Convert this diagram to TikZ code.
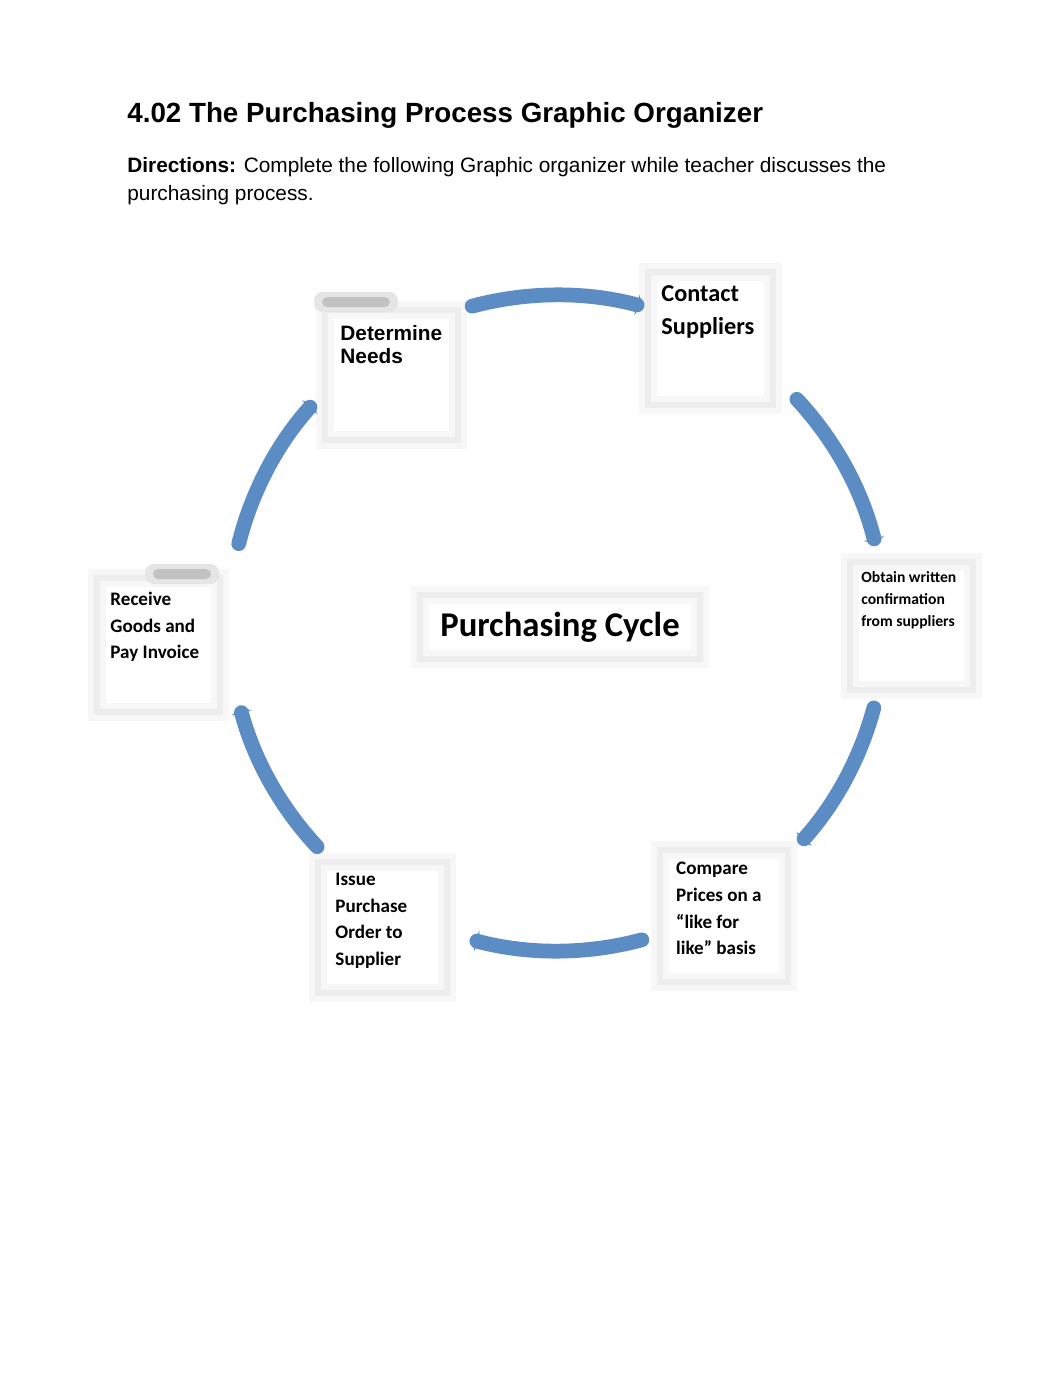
\documentclass[tikz,border=0pt]{standalone}
\usepackage{fontspec}
\setmainfont{Liberation Sans}
\newfontfamily\calibri{Carlito}
\usetikzlibrary{arrows.meta,positioning}
\definecolor{arcblue}{RGB}{92,140,196}

\begin{document}
\begin{tikzpicture}[x=0.5763pt,y=-0.5763pt,
  stepbox/.style={draw=black!7, line width=3.5pt,
    preaction={draw=black!3, line width=10pt}},
  steptext/.style={inner sep=0pt, align=left, anchor=north west,
    font=\calibri\bfseries\fontsize{11}{15.3}\selectfont},
  flow/.style={arcblue, line width=8.5pt, line cap=round,
    -{Triangle[length=3pt,width=12pt]}}]
\useasboundingbox (0,0) rectangle (1062,1377);

% heading
\node[anchor=base west, inner sep=0pt, font=\bfseries\fontsize{16}{18}\selectfont]
  (title) at (127,123) {4.02 The Purchasing Process Graphic Organizer};
\node[anchor=base west, inner sep=0pt, align=left, font=\fontsize{12}{16}\selectfont]
  (dir) at (127,200) {\textbf{Directions:} Complete the following Graphic organizer while teacher discusses the\\purchasing process.};

% boxes
\node[stepbox, minimum width=76.6pt, minimum height=74.9pt] (b1) at (391.5,375) {};
\node[stepbox, minimum width=72.0pt, minimum height=76.6pt] (b2) at (710.5,338.5) {};
\node[stepbox, minimum width=70.9pt, minimum height=73.8pt] (b3) at (911.5,626) {};
\node[stepbox, minimum width=73.8pt, minimum height=76.1pt] (b4) at (724,916) {};
\node[stepbox, minimum width=74.3pt, minimum height=75.5pt] (b5) at (382.5,927.5) {};
\node[stepbox, minimum width=70.9pt, minimum height=77.2pt] (b6) at (158.5,645) {};
\node[stepbox, minimum width=161.4pt, minimum height=36.9pt,
  font=\calibri\bfseries\fontsize{20}{22}\selectfont] (c) at (560,627) {Purchasing Cycle};

% smudges
\fill[black!10, rounded corners=5pt] (314,292) rectangle (398,312);
\fill[black!24, rounded corners=3pt] (322,297) rectangle (390,307);
\fill[black!10, rounded corners=5pt] (145,564) rectangle (219,584);
\fill[black!24, rounded corners=3pt] (153,569) rectangle (211,579);

% labels
\node[steptext, below right=10.3pt and 10.4pt of b1.north west,
  font=\bfseries\fontsize{12}{13.3}\selectfont] (t1) {Determine\\Needs};
\node[steptext, below right=9.3pt and 9.3pt of b2.north west,
  font=\calibri\bfseries\fontsize{14}{19}\selectfont] (t2) {Contact\\Suppliers};
\node[steptext, below right=7pt and 8.1pt of b3.north west,
  font=\calibri\bfseries\fontsize{9}{12.7}\selectfont] (t3) {Obtain written\\confirmation\\from suppliers};
\node[steptext, below right=8.7pt and 10.9pt of b4.north west] (t4) {Compare\\Prices on a\\“like for\\like” basis};
\node[steptext, below right=8.1pt and 11.6pt of b5.north west] (t5) {Issue\\Purchase\\Order to\\Supplier};
\node[steptext, below right=9.8pt and 9.3pt of b6.north west] (t6) {Receive\\Goods and\\Pay Invoice};

% cycle arrows
\coordinate (o) at (557,623);
\draw[flow] ([shift={(-105:328)}]o) arc (-105:-75:328);
\draw[flow] ([shift={(-43:328)}]o) arc (-43:-14:328);
\draw[flow] ([shift={(15:328)}]o) arc (15:42:328);
\draw[flow] ([shift={(75:328)}]o) arc (75:105:328);
\draw[flow] ([shift={(137:328)}]o) arc (137:165:328);
\draw[flow] ([shift={(-166:328)}]o) arc (-166:-138:328);
\end{tikzpicture}
\end{document}
